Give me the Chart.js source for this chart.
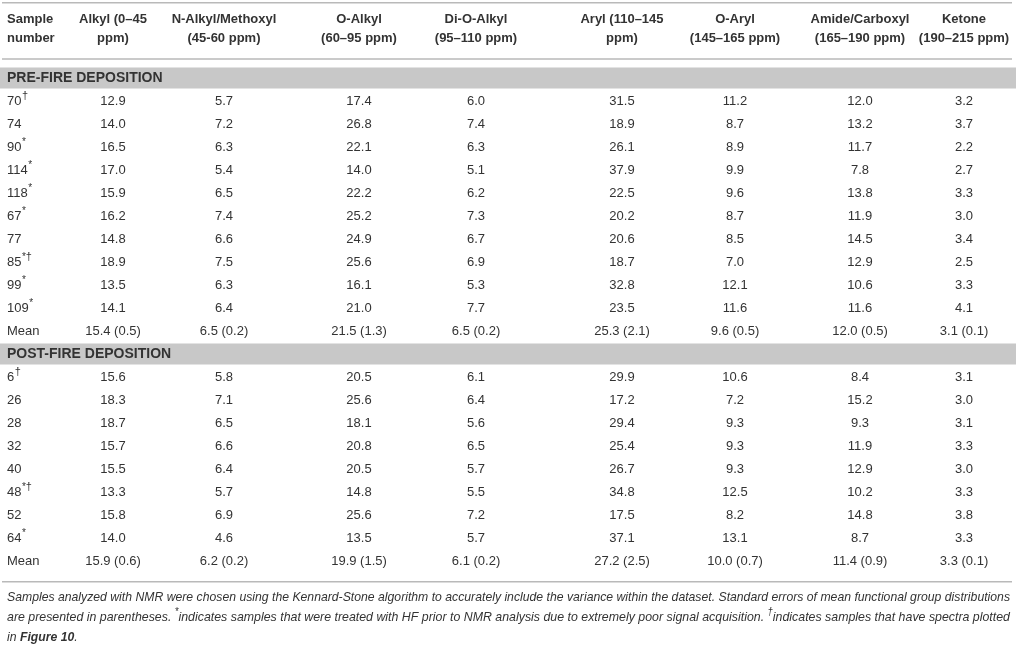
<!DOCTYPE html>
<html lang="en">
<head>
  <meta charset="UTF-8" />
  <title>NMR functional group distributions</title>
  <script src="https://cdn.jsdelivr.net/npm/chart.js"></script>
  <style>
    body {
      margin: 0;
      padding: 0;
      background: #fff;
    }

    .table-container {
      width: 1016px;
      height: 650px;
    }
  </style>
</head>
<body>
  <div class="table-container">
    <canvas id="nmrTable" width="1016" height="650"></canvas>
  </div>

  <script>
    // column headings, two lines each
    const columnHeads = [
      ['Sample', 'number'],
      ['Alkyl (0–45', 'ppm)'],
      ['N-Alkyl/Methoxyl', '(45-60 ppm)'],
      ['O-Alkyl', '(60–95 ppm)'],
      ['Di-O-Alkyl', '(95–110 ppm)'],
      ['Aryl (110–145', 'ppm)'],
      ['O-Aryl', '(145–165 ppm)'],
      ['Amide/Carboxyl', '(165–190 ppm)'],
      ['Ketone', '(190–215 ppm)']
    ];

    const groupTitles = ['PRE-FIRE DEPOSITION', 'POST-FIRE DEPOSITION'];

    // sample numbers and their footnote marks
    const preSamples = ['70', '74', '90', '114', '118', '67', '77', '85', '99', '109'];
    const preMarks = ['†', '', '*', '*', '*', '*', '', '*†', '*', '*'];
    const postSamples = ['6', '26', '28', '32', '40', '48', '52', '64'];
    const postMarks = ['†', '', '', '', '', '*†', '', '*'];

    // functional group values (%), pre-fire samples first, then post-fire
    const alkyl    = [12.9, 14.0, 16.5, 17.0, 15.9, 16.2, 14.8, 18.9, 13.5, 14.1, 15.6, 18.3, 18.7, 15.7, 15.5, 13.3, 15.8, 14.0];
    const nAlkyl   = [5.7, 7.2, 6.3, 5.4, 6.5, 7.4, 6.6, 7.5, 6.3, 6.4, 5.8, 7.1, 6.5, 6.6, 6.4, 5.7, 6.9, 4.6];
    const oAlkyl   = [17.4, 26.8, 22.1, 14.0, 22.2, 25.2, 24.9, 25.6, 16.1, 21.0, 20.5, 25.6, 18.1, 20.8, 20.5, 14.8, 25.6, 13.5];
    const diOAlkyl = [6.0, 7.4, 6.3, 5.1, 6.2, 7.3, 6.7, 6.9, 5.3, 7.7, 6.1, 6.4, 5.6, 6.5, 5.7, 5.5, 7.2, 5.7];
    const aryl     = [31.5, 18.9, 26.1, 37.9, 22.5, 20.2, 20.6, 18.7, 32.8, 23.5, 29.9, 17.2, 29.4, 25.4, 26.7, 34.8, 17.5, 37.1];
    const oAryl    = [11.2, 8.7, 8.9, 9.9, 9.6, 8.7, 8.5, 7.0, 12.1, 11.6, 10.6, 7.2, 9.3, 9.3, 9.3, 12.5, 8.2, 13.1];
    const amide    = [12.0, 13.2, 11.7, 7.8, 13.8, 11.9, 14.5, 12.9, 10.6, 11.6, 8.4, 15.2, 9.3, 11.9, 12.9, 10.2, 14.8, 8.7];
    const ketone   = [3.2, 3.7, 2.2, 2.7, 3.3, 3.0, 3.4, 2.5, 3.3, 4.1, 3.1, 3.0, 3.1, 3.3, 3.0, 3.3, 3.8, 3.3];

    // means and standard errors
    const preMean  = [15.4, 6.5, 21.5, 6.5, 25.3, 9.6, 12.0, 3.1];
    const preSE    = [0.5, 0.2, 1.3, 0.2, 2.1, 0.5, 0.5, 0.1];
    const postMean = [15.9, 6.2, 19.9, 6.1, 27.2, 10.0, 11.4, 3.3];
    const postSE   = [0.6, 0.2, 1.5, 0.2, 2.5, 0.7, 0.9, 0.1];

    // footnote: segments of [text, style]  (i = italic, s = superscript, b = bold italic)
    const footnoteLines = [
      [['Samples analyzed with NMR were chosen using the Kennard-Stone algorithm to accurately include the variance within the dataset. Standard errors of mean functional group distributions', 'i']],
      [['are presented in parentheses. ', 'i'], ['*', 's'], ['indicates samples that were treated with HF prior to NMR analysis due to extremely poor signal acquisition. ', 'i'], ['†', 's'], ['indicates samples that have spectra plotted', 'i']],
      [['in ', 'i'], ['Figure 10', 'b'], ['.', 'i']]
    ];

    // layout: column centres (x) and row offsets, in table units
    const colCenters = [7, 113, 224, 359, 476, 622, 735, 860, 964];
    const FONT = '"Liberation Sans", Arial, sans-serif';
    const TEXT = '#333333';

    const valueColumns = [alkyl, nAlkyl, oAlkyl, diOAlkyl, aryl, oAryl, amide, ketone];

    // row index of every line in the table body
    const preStart = 1;
    const preMeanRow = preStart + preSamples.length;
    const postTitleRow = preMeanRow + 1;
    const postStart = postTitleRow + 1;
    const postMeanRow = postStart + postSamples.length;

    function sampleRows() {
      const rows = [];
      preSamples.forEach((s, i) => rows.push({ y: preStart + i, idx: i }));
      postSamples.forEach((s, i) => rows.push({ y: postStart + i, idx: preSamples.length + i }));
      return rows;
    }

    // one dataset per value column
    const datasets = valueColumns.map((values, c) => {
      const data = sampleRows().map(r => ({ x: colCenters[c + 1], y: r.y, text: values[r.idx].toFixed(1) }));
      data.push({ x: colCenters[c + 1], y: preMeanRow, text: preMean[c].toFixed(1) + ' (' + preSE[c].toFixed(1) + ')' });
      data.push({ x: colCenters[c + 1], y: postMeanRow, text: postMean[c].toFixed(1) + ' (' + postSE[c].toFixed(1) + ')' });
      return { label: columnHeads[c + 1].join(' '), data: data, align: 'center', pointRadius: 0 };
    });

    // first column: sample numbers and Mean labels
    const labelData = [];
    preSamples.forEach((s, i) => labelData.push({ x: colCenters[0], y: preStart + i, text: s, mark: preMarks[i] }));
    labelData.push({ x: colCenters[0], y: preMeanRow, text: 'Mean', mark: '' });
    postSamples.forEach((s, i) => labelData.push({ x: colCenters[0], y: postStart + i, text: s, mark: postMarks[i] }));
    labelData.push({ x: colCenters[0], y: postMeanRow, text: 'Mean', mark: '' });
    datasets.push({ label: 'Sample number', data: labelData, align: 'left', pointRadius: 0 });

    // group title rows
    datasets.push({
      label: 'groups',
      data: [
        { x: colCenters[0], y: 0, text: groupTitles[0] },
        { x: colCenters[0], y: postTitleRow, text: groupTitles[1] }
      ],
      align: 'left',
      group: true,
      pointRadius: 0
    });

    function drawRule(ctx, y, left, right) {
      ctx.save();
      ctx.strokeStyle = '#b9b9b9';
      ctx.lineWidth = 1.5;
      ctx.beginPath();
      ctx.moveTo(left, y);
      ctx.lineTo(right, y);
      ctx.stroke();
      ctx.restore();
    }

    // sample number with superscript marks (* small, † a little larger)
    function drawWithMark(ctx, text, mark, x, y) {
      ctx.font = '13px ' + FONT;
      ctx.textAlign = 'left';
      ctx.fillText(text, x, y);
      let mx = x + ctx.measureText(text).width + 0.5;
      for (const ch of mark) {
        ctx.font = (ch === '†' ? '11px ' : '10px ') + FONT;
        ctx.fillText(ch, mx, y - 5);
        mx += ctx.measureText(ch).width;
      }
    }

    function segFont(style) {
      if (style === 's') return 'italic 10px ' + FONT;
      if (style === 'b') return 'italic bold 13px ' + FONT;
      return 'italic 13px ' + FONT;
    }

    function lineWidthOf(ctx, segs) {
      let w = 0;
      segs.forEach(([t, st]) => { ctx.font = segFont(st); w += ctx.measureText(t).width; });
      return w;
    }

    const tablePlugin = {
      id: 'tablePlugin',
      beforeDatasetsDraw(chart) {
        const ctx = chart.ctx;
        const yS = chart.scales.y;
        const left = 2, right = chart.width - 4;

        // grey group bands
        ctx.save();
        ctx.fillStyle = '#c8c8c8';
        [0, postTitleRow].forEach(r => {
          const yc = yS.getPixelForValue(r);
          ctx.fillRect(0, yc - 10.5, chart.width, 21);
        });
        ctx.restore();

        drawRule(ctx, yS.getPixelForValue(-3.27), left, right);
        drawRule(ctx, yS.getPixelForValue(-0.83), left, right);
        drawRule(ctx, yS.getPixelForValue(postMeanRow + 0.9), left, right);

        // column headings
        ctx.save();
        ctx.fillStyle = TEXT;
        ctx.font = 'bold 13px ' + FONT;
        ctx.textBaseline = 'middle';
        const xS = chart.scales.x;
        columnHeads.forEach((lines, c) => {
          ctx.textAlign = c === 0 ? 'left' : 'center';
          const x = xS.getPixelForValue(colCenters[c]);
          ctx.fillText(lines[0], x, yS.getPixelForValue(-2.56));
          ctx.fillText(lines[1], x, yS.getPixelForValue(-1.7));
        });
        ctx.restore();
      },
      afterDatasetsDraw(chart) {
        const ctx = chart.ctx;
        ctx.save();
        ctx.fillStyle = TEXT;
        ctx.textBaseline = 'middle';
        chart.data.datasets.forEach((ds, di) => {
          const meta = chart.getDatasetMeta(di);
          meta.data.forEach((pt, i) => {
            const d = ds.data[i];
            if (ds.group) {
              ctx.font = 'bold 14px ' + FONT;
              ctx.textAlign = 'left';
              ctx.fillText(d.text, pt.x, pt.y + 0.5);
            } else if (ds.align === 'left') {
              drawWithMark(ctx, d.text, d.mark, pt.x, pt.y);
            } else {
              ctx.font = '13px ' + FONT;
              ctx.textAlign = 'center';
              ctx.fillText(d.text, pt.x, pt.y);
            }
          });
        });

        // footnote, condensed to the table width
        const yS = chart.scales.y;
        const x0 = 7, target = 1003;
        const sx = target / lineWidthOf(ctx, footnoteLines[0]);
        const footRows = [22.6, 23.46, 24.32];
        ctx.textAlign = 'left';
        footnoteLines.forEach((segs, li) => {
          const s = li < 2 ? target / lineWidthOf(ctx, segs) : sx;
          const y = yS.getPixelForValue(footRows[li]);
          ctx.save();
          ctx.translate(x0, y);
          ctx.scale(s, 1);
          let x = 0;
          segs.forEach(([t, st]) => {
            ctx.font = segFont(st);
            ctx.fillText(t, x, st === 's' ? -5 : 0);
            x += ctx.measureText(t).width;
          });
          ctx.restore();
        });
        ctx.restore();
      }
    };

    const ctx = document.getElementById('nmrTable').getContext('2d');
    new Chart(ctx, {
      type: 'scatter',
      data: { datasets: datasets },
      options: {
        responsive: false,
        animation: false,
        events: [],
        layout: { padding: { top: 78, bottom: 89, left: 0, right: 0 } },
        plugins: {
          legend: { display: false },
          tooltip: { enabled: false }
        },
        scales: {
          x: { type: 'linear', display: false, min: 0, max: 1016 },
          y: { type: 'linear', display: false, reverse: true, min: 0, max: postMeanRow }
        }
      },
      plugins: [tablePlugin]
    });
  </script>
</body>
</html>
